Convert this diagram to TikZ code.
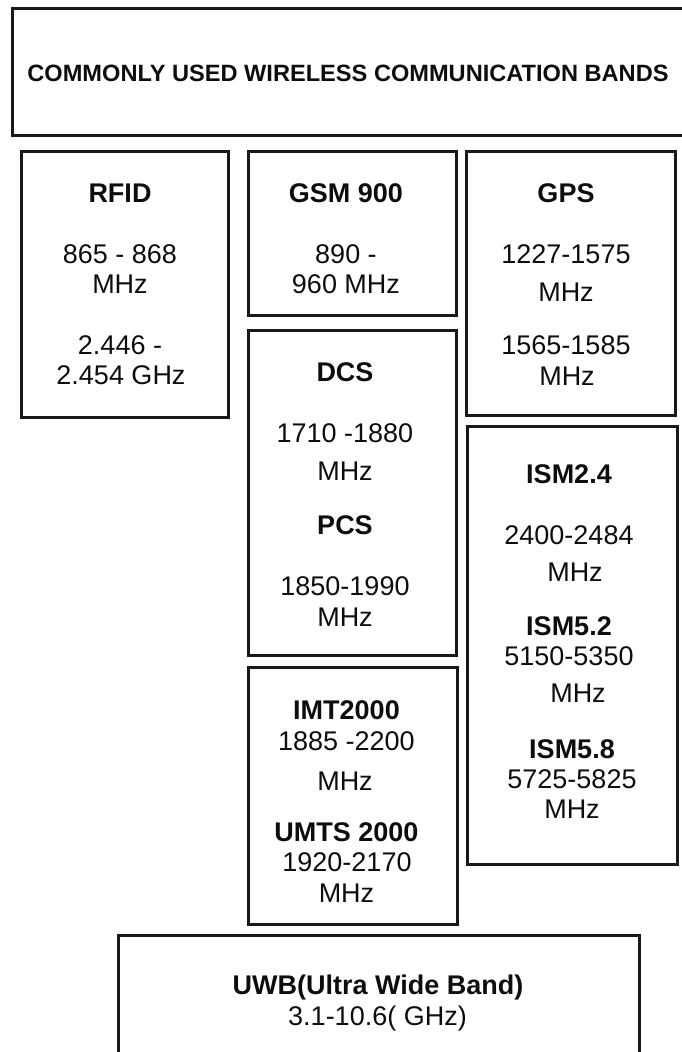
\documentclass[tikz,border=0pt]{standalone}
\usepackage{fontspec}
\setmainfont{Liberation Sans}

\begin{document}
\begin{tikzpicture}[x=1pt, y=-1pt,
    bandbox/.style={draw=black!90, line width=3pt},
    freq/.style={anchor=base, inner sep=0pt, text=black!95, font=\fontsize{27}{32}\selectfont},
    bandname/.style={freq, font=\fontsize{27}{32}\selectfont\bfseries}]
  \useasboundingbox (0,0) rectangle (681,1052);

  % frames
  \draw[bandbox] (12,8) rectangle (700,135);
  \draw[bandbox] (21,151) rectangle (228,417);
  \draw[bandbox] (248,151) rectangle (456,315);
  \draw[bandbox] (466,151) rectangle (675,415);
  \draw[bandbox] (248,330) rectangle (456,655);
  \draw[bandbox] (467,426) rectangle (677,864);
  \draw[bandbox] (248,667) rectangle (457,924);
  \draw[bandbox] (118,935) rectangle (639,1080);

  % title
  \node[bandname, font=\fontsize{23.6}{28}\selectfont\bfseries] (title) at (348,81.7)
    {COMMONLY USED WIRELESS COMMUNICATION BANDS};

  % RFID
  \node[bandname] (rfid) at (120,202) {RFID};
  \node[freq] (rfidA) at (120,263.3) {865 - 868};
  \node[freq] (rfidB) at (120,293.6) {MHz};
  \node[freq] (rfidC) at (120,354.6) {2.446 -};
  \node[freq] (rfidD) at (121,384.6) {2.454 GHz};

  % GSM 900
  \node[bandname] (gsm) at (346,202) {GSM 900};
  \node[freq] (gsmA) at (346,263.3) {890 -};
  \node[freq] (gsmB) at (346,293.6) {960 MHz};

  % GPS
  \node[bandname] (gps) at (566,202) {GPS};
  \node[freq] (gpsA) at (566,263.3) {1227-1575};
  \node[freq] (gpsB) at (566,301.3) {MHz};
  \node[freq] (gpsC) at (566,354.6) {1565-1585};
  \node[freq] (gpsD) at (567,385.3) {MHz};

  % DCS / PCS
  \node[bandname] (dcs) at (345,381.3) {DCS};
  \node[freq] (dcsA) at (345,442.6) {1710 -1880};
  \node[freq] (dcsB) at (345,480) {MHz};
  \node[bandname] (pcs) at (345,534) {PCS};
  \node[freq] (pcsA) at (345,595.6) {1850-1990};
  \node[freq] (pcsB) at (345,626.6) {MHz};

  % ISM
  \node[bandname] (ismA) at (569,483.3) {ISM2.4};
  \node[freq] (ismAf) at (569,544) {2400-2484};
  \node[freq] (ismAu) at (575,581.6) {MHz};
  \node[bandname] (ismB) at (569,635.6) {ISM5.2};
  \node[freq] (ismBf) at (569,665.6) {5150-5350};
  \node[freq] (ismBu) at (578,702) {MHz};
  \node[bandname] (ismC) at (572,758) {ISM5.8};
  \node[freq] (ismCf) at (572,788) {5725-5825};
  \node[freq] (ismCu) at (572,818.6) {MHz};

  % IMT2000 / UMTS
  \node[bandname] (imt) at (346.5,719) {IMT2000};
  \node[freq] (imtA) at (346.5,750) {1885 -2200};
  \node[freq] (imtB) at (345,790) {MHz};
  \node[bandname] (umts) at (346.5,841) {UMTS 2000};
  \node[freq] (umtsA) at (347,871.6) {1920-2170};
  \node[freq] (umtsB) at (346.5,902.4) {MHz};

  % UWB
  \node[bandname] (uwb) at (378,994.6) {UWB(Ultra Wide Band)};
  \node[freq] (uwbA) at (377.5,1025) {3.1-10.6( GHz)};
\end{tikzpicture}
\end{document}
